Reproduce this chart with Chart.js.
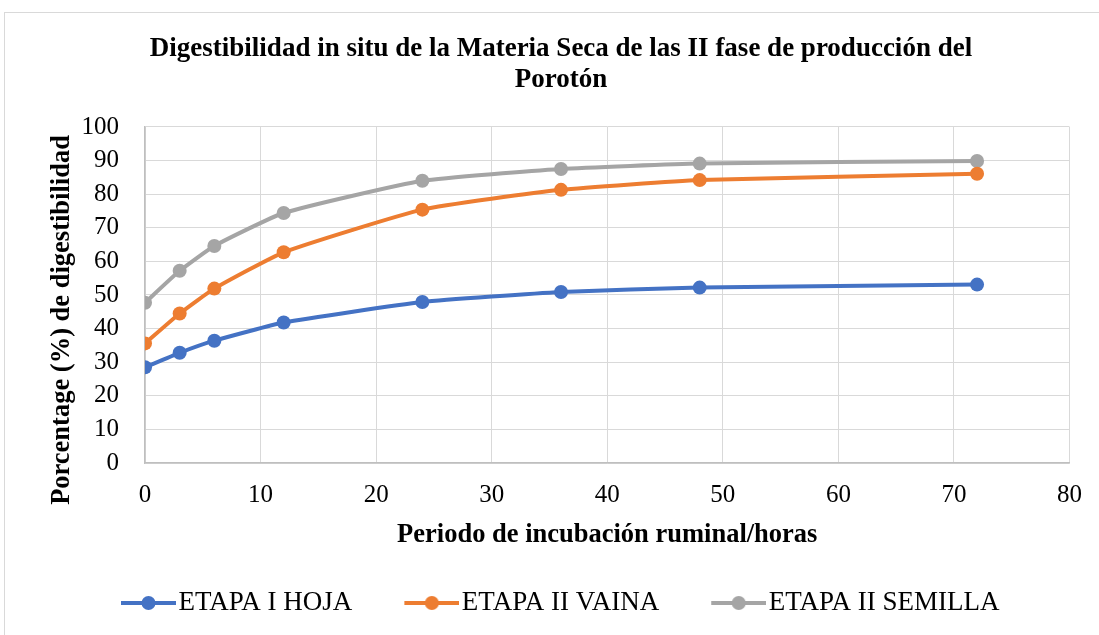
<!DOCTYPE html>
<html>
<head>
<meta charset="utf-8">
<script src="https://cdn.jsdelivr.net/npm/chart.js@4.4.1/dist/chart.umd.min.js"></script>
<style>
  html, body { margin: 0; padding: 0; background: #ffffff; overflow: hidden; width: 1099px; height: 635px; }
  #frame { position: absolute; left: 4px; top: 12px; width: 1200px; height: 700px; border: 1px solid #d9d9d9; box-sizing: border-box; }
  #c { position: absolute; left: 0; top: 0; }
</style>
</head>
<body>
<div id="frame"></div>
<canvas id="c" width="1099" height="635"></canvas>
<script>
const hours = [0, 3, 6, 12, 24, 36, 48, 72];
const etapaIHoja = [28.5, 32.8, 36.4, 41.8, 47.9, 50.9, 52.2, 53.1];
const etapaIIVaina = [35.6, 44.5, 51.9, 62.7, 75.4, 81.3, 84.2, 86.1];
const etapaIISemilla = [47.7, 57.2, 64.6, 74.4, 84.0, 87.5, 89.1, 89.9];
const seriesNames = ['ETAPA I HOJA', 'ETAPA II VAINA', 'ETAPA II SEMILLA'];
const seriesColors = ['#4472C4', '#ED7D31', '#A5A5A5'];
const titleLines = ['Digestibilidad in situ de la Materia Seca de las II fase de producción del', 'Porotón'];
const xTitle = 'Periodo de incubación ruminal/horas';
const yTitle = 'Porcentage (%) de digestibilidad';

const FONT = "'Liberation Serif', 'Times New Roman', serif";

function toXY(values) { return hours.map((h, i) => ({ x: h, y: values[i] })); }

function legendSymbol(color) {
  const W = 108, H = 20;
  const cv = document.createElement('canvas');
  cv.width = W; cv.height = H;
  const g = cv.getContext('2d');
  g.strokeStyle = color; g.lineWidth = 4;
  g.beginPath(); g.moveTo(W - 55, H / 2); g.lineTo(W, H / 2); g.stroke();
  g.fillStyle = color;
  g.beginPath(); g.arc(W - 27.5, H / 2, 7, 0, Math.PI * 2); g.fill();
  return cv;
}

const allSeries = [etapaIHoja, etapaIIVaina, etapaIISemilla];
const datasets = allSeries.map((vals, i) => ({
  label: seriesNames[i],
  data: toXY(vals),
  borderColor: seriesColors[i],
  backgroundColor: seriesColors[i],
  borderWidth: 4,
  pointRadius: 7,
  pointHoverRadius: 7,
  pointBorderWidth: 0,
  tension: 0.15,
  fill: false
}));

const placeBoxes = {
  id: 'placeBoxes',
  afterLayout(chart) {
    const lg = chart.legend;
    const w = lg.right - lg.left, h = lg.bottom - lg.top;
    lg.left = 69; lg.right = lg.left + w;
    lg.top = 579.5; lg.bottom = lg.top + h;
    const tb = chart.titleBlock;
    if (tb) { tb.left += 6; tb.right += 6; }
    const ys = chart.scales.y;
    if (!ys._shiftedTitle) {
      const orig = ys.drawTitle;
      ys.drawTitle = function () {
        const ctx = this.ctx;
        ctx.save();
        ctx.translate(0, 25);
        orig.apply(this, arguments);
        ctx.restore();
      };
      ys._shiftedTitle = true;
    }
  }
};

new Chart(document.getElementById('c'), {
  type: 'line',
  data: { datasets },
  plugins: [placeBoxes],
  options: {
    responsive: false,
    devicePixelRatio: 1,
    animation: false,
    layout: { padding: { left: 40, right: 29, top: 0, bottom: 0 } },
    plugins: {
      tooltip: { enabled: false },
      title: {
        display: true,
        text: titleLines,
        color: '#000000',
        font: { family: FONT, size: 27, weight: 'bold', lineHeight: 1.148 },
        padding: { top: 33.5, bottom: 31.5 }
      },
      legend: {
        display: true,
        position: 'bottom',
        align: 'start',
        labels: {
          color: '#000000',
          font: { family: FONT, size: 27 },
          usePointStyle: true,
          pointStyleWidth: 86,
          padding: 10,
          generateLabels(chart) {
            return chart.data.datasets.map((ds, i) => ({
              text: ds.label,
              fillStyle: ds.borderColor,
              strokeStyle: ds.borderColor,
              lineWidth: 0,
              pointStyle: legendSymbol(ds.borderColor),
              hidden: false,
              datasetIndex: i,
              fontColor: '#000000'
            }));
          }
        }
      }
    },
    scales: {
      x: {
        type: 'linear',
        min: 0, max: 80,
        afterFit(s) { s.height = 125; },
        ticks: { stepSize: 10, color: '#000000', padding: 17, font: { family: FONT, size: 25 } },
        grid: { color: '#d9d9d9', lineWidth: 1, drawTicks: false },
        border: { color: '#bfbfbf', width: 1.5 },
        title: { display: true, text: xTitle, color: '#000000', font: { family: FONT, size: 26.5, weight: 'bold' }, padding: { top: 0, bottom: 37 } }
      },
      y: {
        min: 0, max: 100,
        afterFit(s) { s.width = 105; },
        ticks: { stepSize: 10, color: '#000000', padding: 26, font: { family: FONT, size: 25 } },
        grid: { color: '#d9d9d9', lineWidth: 1, drawTicks: false },
        border: { color: '#bfbfbf', width: 1.5 },
        title: { display: true, text: yTitle, color: '#000000', font: { family: FONT, size: 26.5, weight: 'bold' }, padding: { top: 6, bottom: 0 } }
      }
    }
  }
});
</script>
</body>
</html>
